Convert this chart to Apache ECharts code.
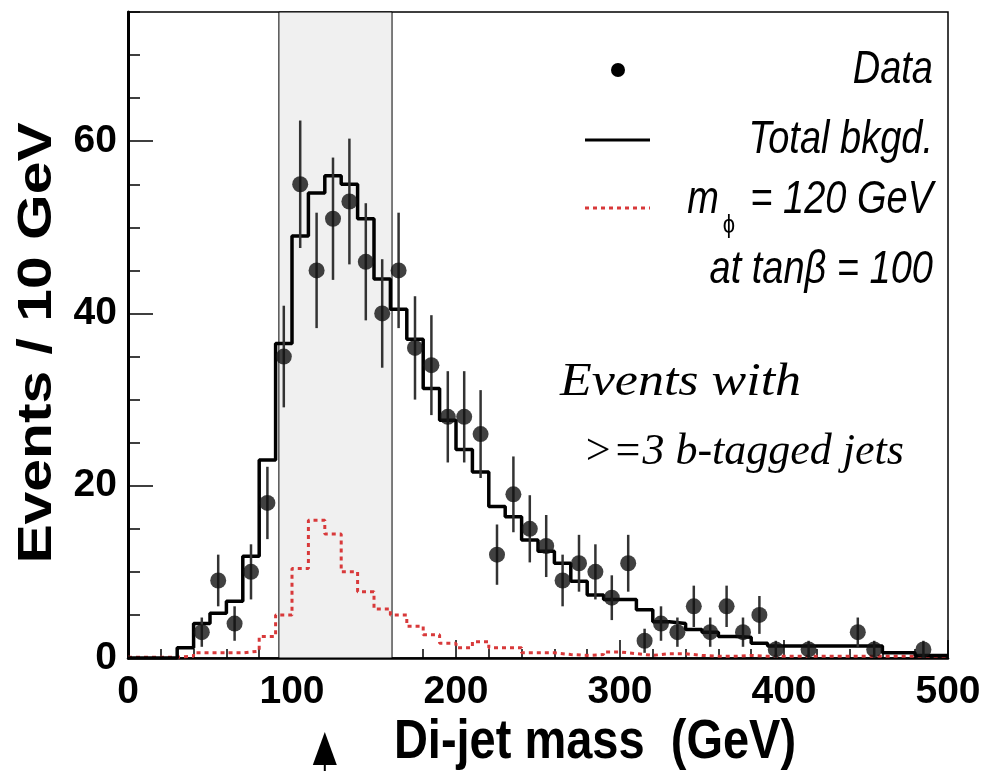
<!DOCTYPE html>
<html>
<head>
<meta charset="utf-8">
<script src="https://cdn.jsdelivr.net/npm/echarts@6/dist/echarts.min.js"></script>
<style>
  html, body { margin: 0; padding: 0; background: #fff; }
  #chart { width: 984px; height: 771px; }
</style>
</head>
<body>
<div id="chart"></div>
<script>
// histogram binning: 50 bins of 10 GeV from 0 to 500
var binWidth = 10;
var massMin = 0;
var massMax = 500;

// total background per bin
var bkgd = [0, 0, 0, 1.2, 4, 5.2, 6.6, 11.8, 23, 36.5,
  49, 54, 56, 55, 51, 44, 40.5, 37, 31.3, 27.6,
  24.2, 21.6, 17.6, 16.4, 13.7, 12.4, 11, 8.9, 7.3, 6.8,
  6.8, 5.6, 4.2, 4.0, 3.3, 3.0, 2.5, 2.4, 1.7, 1.4,
  1.4, 1.4, 1.4, 1.4, 1.4, 1.4, 0.6, 0.6, 0.3, 0.3];

// signal m_phi = 120 GeV, tanb = 100
var signal = [0.1, 0.1, 0.1, 0.2, 0.6, 0.6, 0.6, 0.8, 2.5, 5,
  10.4, 16, 14.4, 10, 7.7, 5.7, 5, 3.7, 2.7, 1.7,
  1.2, 1.9, 1.2, 1.2, 0.6, 0.6, 0.4, 0.3, 0.4, 0.7,
  0.5, 0.3, 0.5, 0.5, 0.3, 0.2, 0.2, 0.3, 0.2, 0.2,
  0.2, 0.2, 0.2, 0.2, 0.2, 0.2, 0.2, 0.2, 0.2, 0.2];

// data points (bin centres), counts and errors
var dataX = [45, 55, 65, 75, 85, 95, 105, 115, 125, 135,
  145, 155, 165, 175, 185, 195, 205, 215, 225, 235,
  245, 255, 265, 275, 285, 295, 305, 315, 325, 335,
  345, 355, 365, 375, 385, 395, 415, 445, 455, 485];
var dataY = [3, 9, 4, 10, 18, 35, 55, 45, 51, 53,
  46, 40, 45, 36, 34, 28, 28, 26, 12, 19,
  15, 13, 9, 11, 10, 7, 11, 2, 4, 3,
  6, 3, 6, 3, 5, 1, 1, 3, 1, 1];
var dataErr = [1.7, 3, 2, 3.2, 4.2, 5.9, 7.4, 6.7, 7.1, 7.3,
  6.8, 6.3, 6.7, 6, 5.8, 5.3, 5.3, 5.1, 3.5, 4.4,
  3.9, 3.6, 3, 3.3, 3.2, 2.6, 3.3, 1.4, 2, 1.7,
  2.4, 1.7, 2.4, 1.7, 2.2, 1, 1, 1.7, 1, 1];

var bandRange = [92, 161];
var massPoint = 120;
var yMax = 75;

function stepData(vals) {
  var out = [];
  for (var i = 0; i < vals.length; i++) {
    out.push([massMin + i * binWidth, vals[i]]);
  }
  out.push([massMax, vals[vals.length - 1]]);
  return out;
}

var points = [];
var bars = [];
for (var i = 0; i < dataX.length; i++) {
  points.push([dataX[i], dataY[i]]);
  bars.push([dataX[i], dataY[i], dataErr[i]]);
}

var chart = echarts.init(document.getElementById('chart'));
var sans = "'Liberation Sans', Arial, sans-serif";
var serif = "'Liberation Serif', serif";
var stretch = 1.2; // the original figure is a bit taller than wide

function legText(x, y, txt) {
  return {
    type: 'text', x: x, y: y, scaleY: stretch,
    style: { text: txt, align: 'right', verticalAlign: 'middle', fontStyle: 'italic', fontWeight: 'normal',
      fontSize: 38, fontFamily: sans, fill: '#000' }
  };
}

var option = {
  animation: false,
  grid: {
    left: 128, right: 36, top: 12, bottom: 113,
    show: true, borderColor: '#000', borderWidth: 1.5, backgroundColor: '#fff'
  },
  xAxis: {
    type: 'value', min: massMin, max: massMax, interval: 100,
    axisLine: { lineStyle: { color: '#000', width: 2.5 } },
    axisTick: { inside: true, length: 18, lineStyle: { color: '#000', width: 1.5 } },
    minorTick: { show: true, splitNumber: 5, length: 9, lineStyle: { color: '#000', width: 1.5 } },
    splitLine: { show: false },
    axisLabel: { margin: 15, color: '#000', fontSize: 39, fontWeight: 'bold', fontFamily: sans }
  },
  yAxis: [{
    type: 'value', min: 0, max: yMax, interval: 20,
    axisLine: { show: true, lineStyle: { color: '#000', width: 3 } },
    axisTick: { inside: true, length: 25, lineStyle: { color: '#000', width: 1.5 } },
    splitLine: { show: false },
    axisLabel: { margin: 11, showMaxLabel: false, color: '#000', fontSize: 39, fontWeight: 'bold', fontFamily: sans }
  }, {
    type: 'value', min: 0, max: yMax, interval: 5, position: 'left',
    axisLine: { show: false },
    axisTick: { inside: true, length: 12, lineStyle: { color: '#000', width: 1.5 } },
    splitLine: { show: false },
    axisLabel: { show: false }
  }],
  series: [
    {
      // shaded mass window
      type: 'custom', z: 1, silent: true,
      data: [bandRange],
      renderItem: function (params, api) {
        var p0 = api.coord([api.value(0), yMax]);
        var p1 = api.coord([api.value(1), 0]);
        return {
          type: 'rect',
          shape: { x: p0[0], y: p0[1], width: p1[0] - p0[0], height: p1[1] - p0[1] },
          style: { fill: '#f0f0f0', stroke: '#000', lineWidth: 1 }
        };
      }
    },
    {
      name: 'signal', type: 'line', step: 'end', z: 3,
      data: stepData(signal), showSymbol: false,
      lineStyle: { color: '#d8393a', width: 3, type: [4, 4] }
    },
    {
      name: 'bkgd', type: 'line', step: 'end', z: 4,
      data: stepData(bkgd), showSymbol: false,
      lineStyle: { color: '#000', width: 3.5 }
    },
    {
      name: 'errors', type: 'custom', z: 5,
      data: bars,
      renderItem: function (params, api) {
        var lo = api.coord([api.value(0), api.value(1) - api.value(2)]);
        var hi = api.coord([api.value(0), api.value(1) + api.value(2)]);
        return {
          type: 'line',
          shape: { x1: lo[0], y1: lo[1], x2: hi[0], y2: hi[1] },
          style: { stroke: '#333', lineWidth: 2.5 }
        };
      }
    },
    {
      name: 'Data', type: 'scatter', z: 6,
      data: points, symbol: 'circle', symbolSize: 16,
      itemStyle: { color: '#111' }
    },
    {
      // arrow under the x axis marking the signal mass
      type: 'custom', clip: false, silent: true, z: 7,
      data: [[massPoint, 0]],
      renderItem: function (params, api) {
        var p = api.coord([api.value(0), api.value(1)]);
        return {
          type: 'group',
          children: [
            { type: 'polygon', shape: { points: [[p[0] - 12, p[1] + 107], [p[0] + 12, p[1] + 107], [p[0], p[1] + 74]] }, style: { fill: '#000' } },
            { type: 'line', shape: { x1: p[0], y1: p[1] + 105, x2: p[0], y2: p[1] + 113 }, style: { stroke: '#000', lineWidth: 2 } }
          ]
        };
      }
    }
  ],
  graphic: [
    { type: 'circle', shape: { cx: 618, cy: 70, r: 7 }, style: { fill: '#000' } },
    legText(933, 70, 'Data'),
    { type: 'line', shape: { x1: 585, y1: 140, x2: 650, y2: 140 }, style: { stroke: '#000', lineWidth: 3 } },
    legText(933, 140, 'Total bkgd.'),
    { type: 'line', shape: { x1: 585, y1: 208, x2: 650, y2: 208 }, style: { stroke: '#d8393a', lineWidth: 3, lineDash: [4, 4] } },
    legText(719, 200, 'm'),
    { type: 'text', x: 729, y: 226, scaleY: stretch, style: { text: 'ϕ', align: 'center', verticalAlign: 'middle', fontSize: 22, fontFamily: sans, fill: '#000' } },
    legText(933, 200, '= 120 GeV'),
    legText(933, 270, 'at tanβ = 100'),
    { type: 'text', x: 560, y: 383, scaleX: 1.13, style: { text: 'Events with', align: 'left', verticalAlign: 'middle', fontStyle: 'italic', fontSize: 46, fontFamily: serif, fill: '#000' } },
    { type: 'text', x: 583, y: 452, style: { text: '>=3 b-tagged jets', align: 'left', verticalAlign: 'middle', fontStyle: 'italic', fontSize: 44, fontFamily: serif, fill: '#000' } },
    { type: 'text', x: 37, y: 343, rotation: Math.PI / 2, scaleX: stretch, style: { text: 'Events / 10 GeV', align: 'center', verticalAlign: 'middle', fontWeight: 'bold', fontSize: 49, fontFamily: sans, fill: '#000' } },
    { type: 'text', x: 595, y: 742, scaleY: stretch, style: { text: 'Di-jet mass  (GeV)', align: 'center', verticalAlign: 'middle', fontWeight: 'bold', fontSize: 47, fontFamily: sans, fill: '#000' } }
  ]
};

chart.setOption(option);
</script>
</body>
</html>
